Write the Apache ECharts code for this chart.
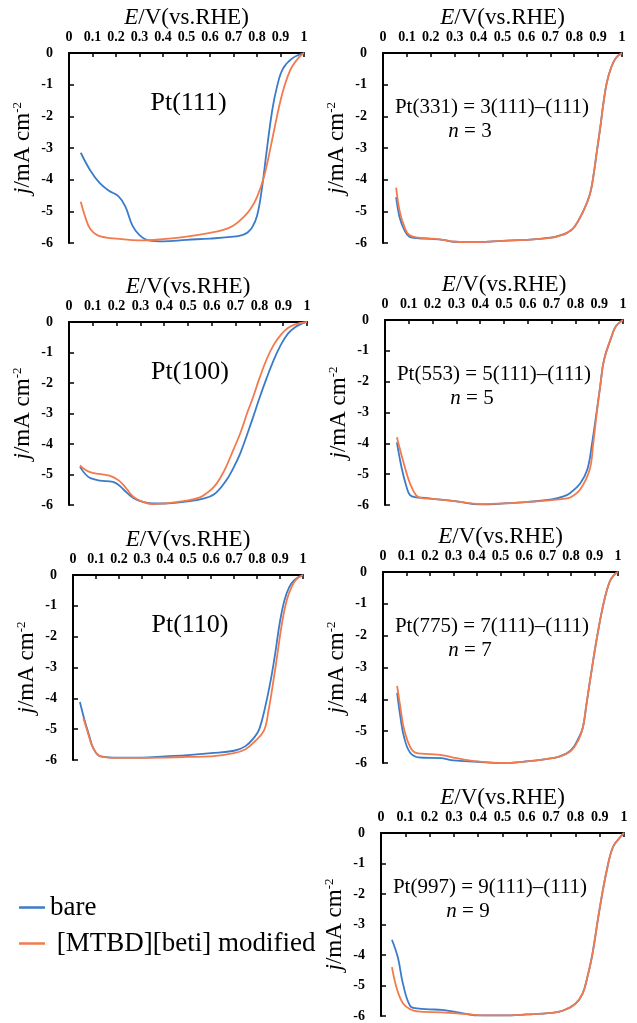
<!DOCTYPE html>
<html>
<head>
<meta charset="utf-8">
<script src="https://cdn.jsdelivr.net/npm/echarts@6/dist/echarts.min.js"></script>
<style>
  html, body { margin: 0; padding: 0; background: #fff; }
  #chart { width: 637px; height: 1023px; }
</style>
</head>
<body>
<div id="chart"></div>
<script>
// potential (V vs RHE) and current density (mA cm-2)
var pt111Bare = [[0.05,-3.15],[0.09,-3.7],[0.13,-4.1],[0.17,-4.35],[0.21,-4.52],[0.24,-4.85],[0.27,-5.45],[0.3,-5.75],[0.34,-5.92],[0.4,-5.95],[0.5,-5.9],[0.6,-5.86],[0.7,-5.8],[0.74,-5.74],[0.76,-5.67],[0.78,-5.5],[0.8,-5.15],[0.82,-4.33],[0.84,-3.16],[0.865,-1.8],[0.885,-1.07],[0.91,-0.5],[0.95,-0.17],[1.0,0]];
var pt111Mod = [[0.05,-4.7],[0.07,-5.2],[0.09,-5.55],[0.12,-5.75],[0.16,-5.83],[0.2,-5.86],[0.3,-5.92],[0.4,-5.88],[0.5,-5.8],[0.6,-5.68],[0.66,-5.58],[0.7,-5.45],[0.74,-5.2],[0.77,-4.95],[0.8,-4.55],[0.83,-3.9],[0.86,-2.9],[0.885,-2.0],[0.908,-1.27],[0.93,-0.75],[0.95,-0.42],[0.98,-0.12],[1.0,0]];

var pt331Bare = [[0.055,-4.55],[0.07,-5.2],[0.09,-5.6],[0.11,-5.8],[0.15,-5.85],[0.2,-5.87],[0.25,-5.9],[0.3,-5.96],[0.4,-5.97],[0.5,-5.93],[0.6,-5.9],[0.7,-5.83],[0.74,-5.76],[0.77,-5.68],[0.8,-5.5],[0.84,-4.96],[0.866,-4.45],[0.88,-3.9],[0.895,-3.1],[0.91,-2.3],[0.922,-1.6],[0.936,-0.95],[0.955,-0.45],[0.975,-0.15],[1.0,0]];
var pt331Mod = [[0.055,-4.25],[0.07,-5.0],[0.09,-5.5],[0.11,-5.75],[0.15,-5.83],[0.2,-5.86],[0.25,-5.9],[0.3,-5.96],[0.4,-5.97],[0.5,-5.93],[0.6,-5.9],[0.7,-5.84],[0.74,-5.77],[0.77,-5.68],[0.8,-5.5],[0.84,-4.96],[0.866,-4.45],[0.88,-3.9],[0.895,-3.1],[0.91,-2.3],[0.922,-1.6],[0.936,-0.95],[0.955,-0.45],[0.975,-0.15],[1.0,0]];

var pt100Bare = [[0.046,-4.75],[0.07,-5.0],[0.09,-5.12],[0.13,-5.2],[0.185,-5.24],[0.21,-5.35],[0.23,-5.5],[0.27,-5.77],[0.31,-5.9],[0.35,-5.95],[0.4,-5.95],[0.5,-5.88],[0.56,-5.8],[0.61,-5.65],[0.66,-5.2],[0.69,-4.8],[0.72,-4.3],[0.77,-3.2],[0.8,-2.5],[0.83,-1.85],[0.86,-1.25],[0.89,-0.75],[0.92,-0.38],[0.95,-0.17],[0.98,-0.05],[1.0,0]];
var pt100Mod = [[0.046,-4.7],[0.07,-4.85],[0.1,-4.95],[0.17,-5.04],[0.21,-5.2],[0.24,-5.45],[0.27,-5.73],[0.31,-5.9],[0.35,-5.97],[0.4,-5.95],[0.5,-5.85],[0.55,-5.75],[0.58,-5.6],[0.61,-5.4],[0.64,-5.05],[0.66,-4.75],[0.69,-4.2],[0.72,-3.64],[0.75,-2.95],[0.77,-2.54],[0.8,-1.85],[0.83,-1.23],[0.86,-0.75],[0.89,-0.42],[0.92,-0.2],[0.95,-0.08],[1.0,0]];

var pt553Bare = [[0.05,-3.97],[0.07,-4.8],[0.09,-5.4],[0.105,-5.68],[0.13,-5.75],[0.17,-5.77],[0.2,-5.8],[0.3,-5.88],[0.4,-5.98],[0.5,-5.95],[0.6,-5.9],[0.7,-5.82],[0.75,-5.72],[0.78,-5.6],[0.82,-5.3],[0.85,-4.85],[0.87,-4.0],[0.89,-2.94],[0.905,-2.1],[0.92,-1.3],[0.95,-0.58],[0.97,-0.2],[1.0,0]];
var pt553Mod = [[0.05,-3.8],[0.07,-4.4],[0.09,-4.95],[0.105,-5.3],[0.13,-5.68],[0.15,-5.77],[0.2,-5.8],[0.3,-5.88],[0.4,-5.97],[0.5,-5.95],[0.6,-5.9],[0.7,-5.84],[0.75,-5.8],[0.78,-5.75],[0.82,-5.5],[0.86,-4.85],[0.875,-4.0],[0.89,-3.0],[0.905,-2.1],[0.92,-1.3],[0.95,-0.58],[0.97,-0.2],[1.0,0]];

var pt110Bare = [[0.03,-4.12],[0.05,-4.7],[0.07,-5.2],[0.087,-5.6],[0.12,-5.88],[0.2,-5.92],[0.3,-5.92],[0.4,-5.88],[0.5,-5.84],[0.6,-5.78],[0.7,-5.7],[0.75,-5.55],[0.79,-5.25],[0.81,-5.0],[0.835,-4.3],[0.86,-3.4],[0.88,-2.5],[0.9,-1.5],[0.92,-0.8],[0.94,-0.39],[0.96,-0.18],[0.985,-0.05],[1.0,0]];
var pt110Mod = [[0.045,-4.64],[0.06,-5.0],[0.087,-5.6],[0.12,-5.88],[0.2,-5.93],[0.3,-5.93],[0.4,-5.92],[0.5,-5.9],[0.6,-5.88],[0.7,-5.78],[0.75,-5.65],[0.79,-5.4],[0.83,-5.05],[0.85,-4.4],[0.87,-3.5],[0.89,-2.5],[0.91,-1.5],[0.93,-0.8],[0.95,-0.39],[0.97,-0.15],[1.0,0]];

var pt775Bare = [[0.06,-3.8],[0.075,-4.6],[0.09,-5.2],[0.115,-5.67],[0.15,-5.82],[0.25,-5.85],[0.3,-5.92],[0.4,-5.96],[0.5,-6.0],[0.6,-5.96],[0.7,-5.87],[0.75,-5.8],[0.8,-5.6],[0.83,-5.25],[0.85,-4.9],[0.865,-4.2],[0.88,-3.46],[0.91,-2.08],[0.94,-0.94],[0.965,-0.3],[0.985,-0.08],[1.0,0]];
var pt775Mod = [[0.06,-3.58],[0.075,-4.3],[0.09,-4.95],[0.12,-5.55],[0.15,-5.7],[0.2,-5.72],[0.25,-5.75],[0.3,-5.83],[0.35,-5.9],[0.4,-5.95],[0.5,-6.0],[0.6,-5.96],[0.7,-5.87],[0.75,-5.8],[0.8,-5.62],[0.83,-5.3],[0.85,-4.9],[0.865,-4.2],[0.88,-3.46],[0.91,-2.08],[0.94,-0.94],[0.965,-0.3],[0.985,-0.08],[1.0,0]];

var pt997Bare = [[0.045,-3.5],[0.07,-4.1],[0.09,-4.93],[0.12,-5.67],[0.15,-5.75],[0.2,-5.78],[0.25,-5.8],[0.3,-5.86],[0.35,-5.93],[0.4,-5.98],[0.5,-5.98],[0.6,-5.95],[0.7,-5.9],[0.75,-5.82],[0.8,-5.6],[0.83,-5.26],[0.85,-4.7],[0.87,-3.97],[0.9,-2.47],[0.93,-1.19],[0.955,-0.45],[0.985,-0.13],[1.0,0]];
var pt997Mod = [[0.045,-4.4],[0.065,-5.1],[0.09,-5.58],[0.12,-5.78],[0.15,-5.85],[0.25,-5.88],[0.35,-5.94],[0.4,-5.97],[0.5,-5.98],[0.6,-5.95],[0.7,-5.9],[0.75,-5.82],[0.8,-5.6],[0.83,-5.26],[0.85,-4.7],[0.87,-3.97],[0.9,-2.47],[0.93,-1.19],[0.955,-0.45],[0.985,-0.13],[1.0,0]];

var seriesNames = ["bare", "[MTBD][beti] modified"];
var xTicks = ["0", "0.1", "0.2", "0.3", "0.4", "0.5", "0.6", "0.7", "0.8", "0.9", "1"];

var BLUE = "#3a7cc9";
var ORANGE = "#f27a4d";
var SERIF = "'Liberation Serif', 'Times New Roman', serif";

// one entry per panel: grid box, data, label
var panels = [
  { box: [69, 53, 235, 190], bare: pt111Bare, mod: pt111Mod, label: "Pt(111)" },
  { box: [383, 53, 239, 190], bare: pt331Bare, mod: pt331Mod, label: "Pt(331) = 3(111)–(111)", n: 3 },
  { box: [69, 322, 238, 183], bare: pt100Bare, mod: pt100Mod, label: "Pt(100)" },
  { box: [385, 320, 238, 185], bare: pt553Bare, mod: pt553Mod, label: "Pt(553) = 5(111)–(111)", n: 5 },
  { box: [73, 575, 230, 185], bare: pt110Bare, mod: pt110Mod, label: "Pt(110)" },
  { box: [383, 572, 235, 191], bare: pt775Bare, mod: pt775Mod, label: "Pt(775) = 7(111)–(111)", n: 7 },
  { box: [381, 833, 243, 187], bare: pt997Bare, mod: pt997Mod, label: "Pt(997) = 9(111)–(111)", n: 9 }
];

var grids = [], xAxes = [], yAxes = [], series = [], graphics = [];

panels.forEach(function (p, i) {
  grids.push({ left: p.box[0], top: p.box[1], width: p.box[2], height: p.box[3] });
  xAxes.push({
    gridIndex: i, type: "value", position: "top", min: 0, max: 1, interval: 0.1,
    name: "{i|E}/V(vs.RHE)", nameLocation: "middle", nameGap: 20,
    nameTextStyle: { fontFamily: SERIF, fontSize: 23, color: "#000",
      rich: { i: { fontFamily: SERIF, fontSize: 23, fontStyle: "italic", color: "#000" } } },
    axisLine: { lineStyle: { color: "#000", width: 2 } },
    axisTick: { inside: true, length: 4, lineStyle: { color: "#000", width: 1.5 } },
    axisLabel: { margin: 9, fontFamily: SERIF, fontSize: 14, fontWeight: "bold", color: "#000",
      formatter: function (v) { return xTicks[Math.round(v * 10)]; } },
    splitLine: { show: false }
  });
  yAxes.push({
    gridIndex: i, type: "value", min: -6, max: 0, interval: 1,
    name: "{i|j}/mA cm{s|-2}", nameLocation: "middle", nameRotate: 90, nameGap: 35,
    nameTextStyle: { fontFamily: SERIF, fontSize: 23, color: "#000",
      rich: {
        i: { fontFamily: SERIF, fontSize: 23, fontStyle: "italic", color: "#000" },
        s: { fontFamily: SERIF, fontSize: 13, color: "#000", verticalAlign: "top" }
      } },
    axisLine: { onZero: false, lineStyle: { color: "#000", width: 2 } },
    axisTick: { inside: true, length: 5, lineStyle: { color: "#000", width: 1.5 } },
    axisLabel: { margin: 16, fontFamily: SERIF, fontSize: 14, fontWeight: "bold", color: "#000" },
    splitLine: { show: false }
  });
  [[p.bare, seriesNames[0], BLUE], [p.mod, seriesNames[1], ORANGE]].forEach(function (s) {
    series.push({
      name: s[1], type: "line", xAxisIndex: i, yAxisIndex: i, data: s[0],
      symbol: "none", smooth: 0.4, lineStyle: { color: s[2], width: 1.8 },
      itemStyle: { color: s[2] }, silent: true
    });
  });

  var cx = p.box[0] + p.box[2] / 2;
  if (p.n) {
    graphics.push({ type: "text", x: p.box[0] + 109, y: p.box[1] + 54,
      style: { text: p.label, font: "21px " + SERIF, fill: "#000", align: "center", verticalAlign: "middle" } });
    graphics.push({ type: "text", x: p.box[0] + 87, y: p.box[1] + 78,
      style: { text: "{i|n} = " + p.n, font: "21px " + SERIF, fill: "#000", align: "center", verticalAlign: "middle",
        rich: { i: { font: "italic 21px " + SERIF, fill: "#000" } } } });
  } else {
    graphics.push({ type: "text", x: cx + 2, y: p.box[1] + 50,
      style: { text: p.label, font: "26px " + SERIF, fill: "#000", align: "center", verticalAlign: "middle" } });
  }
});

var chart = echarts.init(document.getElementById("chart"));
chart.setOption({
  backgroundColor: "#fff",
  animation: false,
  grid: grids,
  xAxis: xAxes,
  yAxis: yAxes,
  series: series,
  graphic: graphics,
  legend: {
    data: seriesNames, orient: "vertical", left: 14, top: 889,
    icon: "rect", itemWidth: 26, itemHeight: 2.5, itemGap: 9,
    textStyle: { fontFamily: SERIF, fontSize: 27, color: "#000" },
    formatter: function (name) { return name === "bare" ? name : " " + name; }
  }
});
</script>
</body>
</html>
